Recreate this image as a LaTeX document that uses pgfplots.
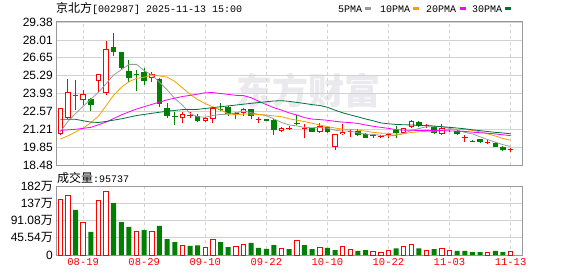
\documentclass[border=0pt]{standalone}
\usepackage{pgfplots}
\pgfplotsset{compat=1.18}
\usepackage{pgfplotstable}
\usepackage{fontspec}
\setmainfont{Liberation Sans}
\newfontfamily\cjk{Noto Sans CJK SC}
\newfontfamily\mono{Liberation Mono}
\definecolor{kred}{HTML}{FF0000}
\definecolor{kgreen}{HTML}{008000}
\definecolor{maA}{HTML}{999999}
\definecolor{maB}{HTML}{F5A000}
\definecolor{maC}{HTML}{FF00FF}
\definecolor{maD}{HTML}{00703C}
\definecolor{gridc}{HTML}{D2D2D2}
\definecolor{framec}{HTML}{999999}
\definecolor{wm}{HTML}{E9E9EE}

% candles: x open high low close
\pgfplotstableread{
x o h l c
0 20.84 22.85 20.80 22.80
1 22.09 25.04 22.00 24.05
3 23.41 24.20 23.05 23.87
5 24.88 25.45 24.07 25.39
6 23.95 27.93 23.80 27.30
12 25.11 25.55 24.83 25.42
16 22.04 22.54 21.66 22.34
19 21.83 22.16 21.74 22.03
20 21.96 22.92 21.66 22.85
24 22.42 22.85 22.24 22.72
29 21.07 21.40 21.00 21.33
34 21.02 21.66 20.92 21.48
36 19.88 20.85 19.65 20.82
37 20.82 21.58 20.77 21.02
45 20.95 21.32 20.90 21.28
46 21.35 21.90 21.30 21.84
50 20.85 21.60 20.75 21.30
}\redhollow

\pgfplotstableread{
x o h l c
17 22.21 22.50 22.10 22.29
23 22.33 22.54 21.96 22.41
26 21.94 22.16 21.66 22.02
30 21.25 21.45 21.12 21.33
32 21.25 21.58 20.51 21.33
38 20.98 21.21 20.59 21.06
41 20.66 20.80 20.52 20.74
42 20.64 20.78 20.50 20.72
43 20.77 20.92 20.55 20.85
48 21.45 21.62 21.30 21.53
51 21.16 21.40 20.98 21.24
53 20.52 20.77 20.26 20.60
56 20.17 20.39 20.05 20.25
59 19.60 19.74 19.46 19.68
}\redcross

\pgfplotstableread{
x o h l c
2 23.80 24.96 22.67 23.72
4 23.49 23.55 22.62 23.08
7 27.45 28.57 26.81 27.09
8 27.07 27.10 25.70 25.85
9 25.65 26.48 24.83 25.13
10 25.45 25.72 24.15 25.37
11 25.59 25.85 24.58 24.88
13 25.04 25.08 22.88 23.11
14 22.85 23.18 22.10 22.22
15 22.19 22.50 21.50 22.11
18 22.18 22.34 21.76 21.85
21 22.75 23.18 22.62 22.67
22 22.92 22.96 22.25 22.34
25 22.72 22.75 21.96 22.22
27 21.95 22.02 21.85 21.87
28 21.91 22.00 20.75 21.15
31 21.69 22.29 21.53 21.61
33 21.28 21.30 21.00 21.02
35 21.35 21.40 20.95 21.02
39 21.10 21.23 20.69 20.77
40 20.85 20.95 20.50 20.55
44 21.12 21.45 20.50 20.95
47 21.74 21.80 21.40 21.47
49 21.38 21.42 20.85 20.90
52 21.10 21.15 20.80 20.88
54 20.33 20.40 20.22 20.25
55 20.44 20.48 20.15 20.20
57 20.18 20.20 19.85 19.88
58 19.88 19.90 19.55 19.62
}\greenc

% volume (10k lots)
\pgfplotstableread{
x v
0 147
1 158
3 86
5 144
6 168
10 62.5
12 62.5
16 25.5
19 20
20 41
23 23
24 28
29 17.6
31 37
34 20
37 22.9
38 15
41 9.7
42 7
43 10.6
45 22.9
46 28
48 12.3
50 17.6
51 12.3
56 7
59 9.57
}\volred

\pgfplotstableread{
x v
2 119
4 61
7 137
8 87
9 74
11 66
13 76.6
14 42
15 34
17 23.8
18 25.5
21 34
22 21
25 31.7
26 18.5
27 16
28 26.4
30 15.8
32 26.4
33 15.8
35 18.5
36 13.2
39 10.6
40 13.2
44 17.6
47 17.6
49 15.8
52 10.6
53 10.6
54 7.9
55 7.9
57 10.6
58 7.9
}\volgreen

\pgfplotsset{
  kbase/.style={
    scale only axis,
    xmin=-0.56, xmax=60.5,
    xtick={3,11,19,27,35,43,51,59},
    ymajorgrids, xmajorgrids,
    major y grid style={gridc, line width=0.8pt},
    major x grid style={gridc, line width=0.8pt, dash pattern=on 3pt off 3pt},
    axis line style={framec, line width=1pt},
    major tick length=0pt,
    yticklabel style={font=\fontsize{12}{12}\selectfont, text=black, inner sep=0pt, xshift=-3pt},
  }
}

\begin{document}
\begin{tikzpicture}
\useasboundingbox (0pt,0pt) rectangle (578pt,276pt);
\node[text=wm, inner sep=0pt] at (308pt,185pt) {\cjk\bfseries\fontsize{36}{36}\selectfont 东方财富};

\begin{axis}[kbase, anchor=south west, at={(56pt,111pt)}, width=466pt, height=143pt,
  ymin=18.48, ymax=29.38,
  ytick={18.48,19.85,21.21,22.57,23.93,25.29,26.65,28.01,29.38},
  yticklabels={18.48,19.85,21.21,22.57,23.93,25.29,26.65,28.01,29.38},
  xticklabels={,,,,,,,}]
% wicks
\addplot[kred, line width=1pt, quiver={u=0, v=\thisrow{h}-\thisrow{l}}] table[x=x, y=l] {\redhollow};
\addplot[kred, line width=1pt, quiver={u=0, v=\thisrow{h}-\thisrow{l}}] table[x=x, y=l] {\redcross};
\addplot[kgreen, line width=1pt, quiver={u=0, v=\thisrow{h}-\thisrow{l}}] table[x=x, y=l] {\greenc};
% bodies
\addplot[kred, line width=5.5pt, quiver={u=0, v=\thisrow{c}-\thisrow{o}}] table[x=x, y=o] {\redhollow};
\addplot[white, line width=3.5pt, quiver={u=0, v=\thisrow{c}-\thisrow{o}-0.15}] table[x=x, y expr=\thisrow{o}+0.075] {\redhollow};
\addplot[kred, line width=5.5pt, quiver={u=0, v=\thisrow{c}-\thisrow{o}}] table[x=x, y=o] {\redcross};
\addplot[kgreen, line width=5.5pt, quiver={u=0, v=\thisrow{c}-\thisrow{o}}] table[x=x, y=o] {\greenc};
% moving averages
\addplot[maA, line width=0.8pt] coordinates {(0,21.0)(1,21.8)(2,22.4)(3,22.95)(4,23.50)(5,24.02)(6,24.67)(7,25.35)(8,25.74)(9,26.15)(10,26.15)(11,25.67)(12,25.34)(13,24.79)(14,24.21)(15,23.55)(16,23.05)(17,22.41)(18,22.16)(19,22.12)(20,22.26)(21,22.33)(22,22.35)(23,22.45)(24,22.60)(25,22.47)(26,22.33)(27,22.24)(28,21.99)(29,21.72)(30,21.53)(31,21.46)(32,21.34)(33,21.32)(34,21.35)(35,21.29)(36,21.13)(37,21.07)(38,21.07)(39,20.93)(40,20.84)(41,20.81)(42,20.75)(43,20.70)(44,20.74)(45,20.88)(46,21.11)(47,21.26)(48,21.40)(49,21.39)(50,21.40)(51,21.27)(52,21.16)(53,20.97)(54,20.85)(55,20.63)(56,20.42)(57,20.22)(58,20.03)(59,19.89)};
\addplot[maB, line width=0.8pt] coordinates {(0,20.45)(1,20.7)(2,21.0)(3,21.3)(4,21.7)(5,22.2)(6,23.0)(7,23.8)(8,24.4)(9,24.83)(10,25.09)(11,25.17)(12,25.34)(13,25.27)(14,25.18)(15,24.85)(16,24.36)(17,23.87)(18,23.47)(19,23.16)(20,22.91)(21,22.69)(22,22.38)(23,22.31)(24,22.36)(25,22.36)(26,22.33)(27,22.29)(28,22.22)(29,22.16)(30,22.00)(31,21.90)(32,21.79)(33,21.66)(34,21.53)(35,21.41)(36,21.30)(37,21.21)(38,21.20)(39,21.14)(40,21.06)(41,20.97)(42,20.91)(43,20.89)(44,20.83)(45,20.86)(46,20.96)(47,21.01)(48,21.05)(49,21.07)(50,21.14)(51,21.19)(52,21.21)(53,21.19)(54,21.12)(55,21.01)(56,20.85)(57,20.69)(58,20.50)(59,20.37)};
\addplot[maC, line width=0.8pt] coordinates {(0,21.12)(2,21.2)(4,21.35)(6,21.75)(8,22.3)(10,22.75)(12,23.1)(14,23.45)(16,23.7)(18,23.88)(19,23.99)(20,24.00)(21,23.93)(22,23.86)(23,23.79)(24,23.77)(25,23.61)(26,23.34)(27,23.08)(28,22.85)(29,22.66)(30,22.45)(31,22.29)(32,22.09)(33,21.98)(34,21.94)(35,21.89)(36,21.81)(37,21.75)(38,21.71)(39,21.65)(40,21.53)(41,21.43)(42,21.35)(43,21.27)(44,21.18)(45,21.14)(46,21.13)(47,21.11)(48,21.12)(49,21.10)(50,21.10)(51,21.08)(52,21.06)(53,21.04)(54,20.98)(55,20.94)(56,20.90)(57,20.85)(58,20.78)(59,20.72)};
\addplot[maD, line width=0.8pt] coordinates {(0,21.96)(2,21.96)(4,21.75)(5,21.72)(6,21.8)(8,22.0)(10,22.25)(12,22.42)(14,22.58)(16,22.70)(18,22.72)(19,22.79)(21,22.92)(23,23.05)(25,23.18)(27,23.30)(28,23.36)(29,23.38)(30,23.33)(31,23.25)(32,23.17)(33,23.08)(34,23.02)(35,22.88)(36,22.66)(37,22.46)(38,22.30)(39,22.15)(40,21.99)(41,21.85)(42,21.69)(43,21.62)(44,21.57)(45,21.55)(46,21.53)(47,21.50)(48,21.49)(49,21.45)(50,21.40)(51,21.35)(52,21.30)(53,21.24)(54,21.16)(55,21.10)(56,21.03)(57,20.97)(58,20.92)(59,20.86)};
\end{axis}

\begin{axis}[kbase, anchor=south west, at={(56pt,21pt)}, width=466pt, height=69pt,
  ymin=0, ymax=182.16,
  ytick={0,45.54,91.08,136.62,182.16},
  yticklabels={0,45.54{\cjk 万},91.08{\cjk 万},137{\cjk 万},182{\cjk 万}},
  xticklabels={08-19,08-29,09-10,09-22,10-10,10-22,11-03,11-13},
  xticklabel style={font=\mono\fontsize{10.5}{10.5}\selectfont, text=kred, inner sep=0pt, yshift=-3pt}]
\addplot[ybar, bar width=5pt, bar shift=0pt, fill=kgreen, draw=none] table[x=x, y=v] {\volgreen};
\addplot[ybar, bar width=4.5pt, bar shift=0pt, fill=white, draw=kred, line width=1pt] table[x=x, y=v] {\volred};
\end{axis}

% title, legend, volume label
\node[anchor=west, inner sep=0pt] at (56pt,268pt) {{\cjk\fontsize{12}{12}\selectfont 京北方}{\mono\fontsize{10}{10}\selectfont [002987] 2025-11-13 15:00}};
\node[anchor=west, inner sep=0pt] at (57pt,98pt) {{\cjk\fontsize{12}{12}\selectfont 成交量}{\mono\fontsize{10}{10}\selectfont :95737}};
\begin{scope}[every node/.style={anchor=west, inner sep=0pt, font=\mono\fontsize{10}{10}\selectfont}]
\node at (338pt,267pt) {5PMA};  \fill[maA] (365pt,265.5pt) rectangle (371pt,268.5pt);
\node at (380pt,267pt) {10PMA}; \fill[maB] (413pt,265.5pt) rectangle (419pt,268.5pt);
\node at (426pt,267pt) {20PMA}; \fill[maC] (460pt,265.5pt) rectangle (466pt,268.5pt);
\node at (472pt,267pt) {30PMA}; \fill[maD] (505pt,265.5pt) rectangle (511pt,268.5pt);
\end{scope}
\end{tikzpicture}
\end{document}
